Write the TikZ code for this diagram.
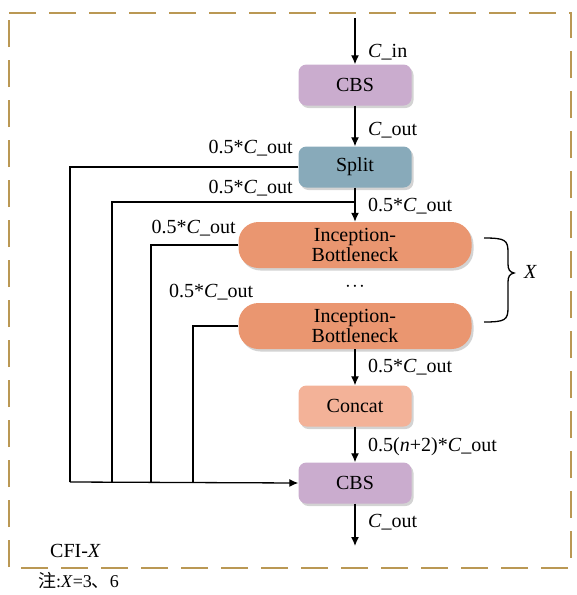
\documentclass[tikz,border=0pt]{standalone}
\usepackage{fontspec}
\setmainfont{Liberation Serif}
\newfontfamily\cjkfont{Noto Sans CJK SC}
\usetikzlibrary{arrows.meta,shadows}
\definecolor{framegold}{RGB}{186,152,84}
\definecolor{cbscol}{RGB}{202,172,206}
\definecolor{splitcol}{RGB}{136,170,186}
\definecolor{ibcol}{RGB}{234,150,112}
\definecolor{catcol}{RGB}{243,178,152}
\tikzset{
  box/.style={rounded corners=8pt, minimum width=113pt, minimum height=41pt, inner sep=0pt,
    font=\fontsize{20}{20}\selectfont,
    drop shadow={shadow xshift=2pt, shadow yshift=-2.5pt, opacity=0.35}},
  ibbox/.style={box, rounded corners=20pt, minimum width=233pt, minimum height=46pt, align=center},
  lbl/.style={font=\fontsize{20}{22}\selectfont, inner sep=0pt},
  flow/.style={line width=1.3pt, -{Latex[length=9pt,width=8pt]}},
  wire/.style={line width=1.3pt},
}
\begin{document}
\begin{tikzpicture}[x=1pt,y=-1pt]
\useasboundingbox (0,0) rectangle (577,595);
\draw[framegold, line width=1.4pt, dash pattern=on 27pt off 13pt] (9,13) -- (571,13) -- (571,568) -- (9,568) -- cycle;

\node[box, fill=cbscol] (cbs1) at (355,85) {CBS};
\node[box, fill=splitcol] (split) at (355,167) {Split};
\node[ibbox, fill=ibcol] (ib1) at (355,245) {Inception-\\Bottleneck};
\node[ibbox, fill=ibcol] (ib2) at (355,326) {Inception-\\Bottleneck};
\node[box, fill=catcol] (cat) at (355,406) {Concat};
\node[box, fill=cbscol] (cbs2) at (355,483) {CBS};

\coordinate (in) at (355,18);
\coordinate (out) at (355,546);
\coordinate (s2) at (355,202);
\coordinate (b1) at (70,482);
\coordinate (b2) at (112,482);
\coordinate (b3) at (151,482);
\coordinate (b4) at (193,482);

\draw[flow] (in) -- (cbs1);
\draw[flow] (cbs1) -- (split);
\draw[flow] (split) -- (ib1);
\draw[flow] (ib2) -- (cat);
\draw[flow] (cat) -- (cbs2);
\draw[flow] (cbs2) -- (out);

\draw[wire] (split.west) -| (b1);
\draw[wire] (s2) -| (b2);
\draw[wire] (ib1.west) -| (b3);
\draw[wire] (ib2.west) -| (b4);
\draw[flow] (b1) -- (cbs2.west);

\node[lbl, anchor=west] (l1) at (368,52) {\textit{C}\_in};
\node[lbl, anchor=west] (l2) at (368,130) {\textit{C}\_out};
\node[lbl, anchor=west] (l3) at (368,206) {0.5*\textit{C}\_out};
\node[lbl, anchor=west] (l4) at (368,367) {0.5*\textit{C}\_out};
\node[lbl, anchor=west] (l5) at (368,447) {0.5(\textit{n}+2)*\textit{C}\_out};
\node[lbl, anchor=west] (l6) at (368,522) {\textit{C}\_out};
\node[lbl, anchor=east] (r1) at (293,148) {0.5*\textit{C}\_out};
\node[lbl, anchor=east] (r2) at (293,188) {0.5*\textit{C}\_out};
\node[lbl, anchor=east] (r3) at (236,228) {0.5*\textit{C}\_out};
\node[lbl, anchor=west] (r4) at (169,292) {0.5*\textit{C}\_out};
\node[lbl] (dots) at (355,287) {$\cdot\!\cdot\!\cdot$};

\draw[line width=1.3pt] (484,238) .. controls (505,238) and (508,240) .. (508,252) -- (508,264)
  .. controls (508,270) and (510,272) .. (514,273) .. controls (510,274) and (508,276) .. (508,282)
  -- (508,308) .. controls (508,320) and (505,322) .. (484,322);
\node[lbl, anchor=west] (xl) at (524,272) {\textit{X}};

\node[lbl, anchor=west] (cfi) at (50,551) {CFI-\textit{X}};
\node[lbl, anchor=west, font=\fontsize{18}{20}\selectfont] (note) at (38,581) {{\cjkfont 注}:\textit{X}=3{\cjkfont 、}6};
\end{tikzpicture}
\end{document}
